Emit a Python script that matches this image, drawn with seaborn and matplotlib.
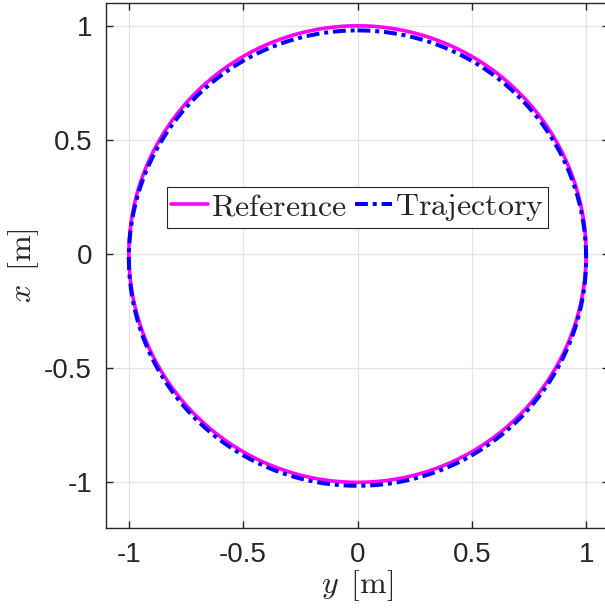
import numpy as np
import pandas as pd
import matplotlib
matplotlib.use("Agg")
import matplotlib.pyplot as plt
import seaborn as sns

# ===============================
# Datos
# ===============================

ref_radius = 1.0
ref_center = [0.0, 0.0]           # (y, x)

# extremos de la trayectoria
traj_top = 0.98
traj_bottom = -1.015
traj_left = -1.0
traj_right = 1.0

x_ticks = [-1, -0.5, 0, 0.5, 1]
y_ticks = [-1, -0.5, 0, 0.5, 1]
x_tick_labels = ["-1", "-0.5", "0", "0.5", "1"]
y_tick_labels = ["-1", "-0.5", "0", "0.5", "1"]

# ===============================
# Preparar curvas
# ===============================

theta = np.linspace(0, 2 * np.pi, 721)

ref = pd.DataFrame({
    "y": ref_center[0] + ref_radius * np.sin(theta),
    "x": ref_center[1] + ref_radius * np.cos(theta),
})

cy = (traj_right + traj_left) / 2
cx = (traj_top + traj_bottom) / 2
ry = (traj_right - traj_left) / 2
rx = (traj_top - traj_bottom) / 2
traj = pd.DataFrame({
    "y": cy + ry * np.sin(theta),
    "x": cx + rx * np.cos(theta),
})

# ===============================
# Estilo
# ===============================

sns.set_theme(style="whitegrid")
plt.rcParams["font.family"] = ["Liberation Sans", "DejaVu Sans"]
plt.rcParams["mathtext.fontset"] = "cm"

fig = plt.figure(figsize=(6.05, 6.16), dpi=100)
W, H = 605, 616
left, right, top, bottom = 106, 609, 3, 528
ax = fig.add_axes([left / W, (H - bottom) / H, (right - left) / W, (bottom - top) / H])

sns.lineplot(data=ref, x="y", y="x", sort=False, estimator=None,
             color="#ff00ff", linewidth=2.6, ax=ax, label=r"$\mathrm{Reference}$")
sns.lineplot(data=traj, x="y", y="x", sort=False, estimator=None,
             color="#0000ff", linewidth=2.9, linestyle=(0, (3.2, 1.2, 1.0, 1.2)),
             ax=ax, label=r"$\mathrm{Trajectory}$")

ax.set_xlim(-1.1, 1.1)
ax.set_ylim(-1.2, 1.1)
ax.set_xticks(x_ticks)
ax.set_xticklabels(x_tick_labels)
ax.set_yticks(y_ticks)
ax.set_yticklabels(y_tick_labels)

ax.set_facecolor("white")
ax.grid(True, color="#e3e3e3", linewidth=0.9)
for s in ax.spines.values():
    s.set_color("#262626")
    s.set_linewidth(1.0)

ax.tick_params(axis="both", direction="in", length=5, width=1.0,
               colors="#262626", labelsize=20, pad=10,
               bottom=True, left=True, top=True, right=True)

ax.set_xlabel(r"$y\ \, [\mathrm{m}]$", fontsize=23, labelpad=0, color="#262626")
ax.set_ylabel(r"$x\ \, [\mathrm{m}]$", fontsize=23, labelpad=2, color="#262626")

leg = ax.legend(loc="center", bbox_to_anchor=(0.5, 0.61), ncol=2,
                fontsize=23, frameon=True, fancybox=False, framealpha=1,
                edgecolor="#262626", handlelength=1.15, handletextpad=0.1,
                columnspacing=0.25, borderpad=0.15, borderaxespad=0)
leg.get_frame().set_linewidth(0.8)

fig.savefig("out.png", dpi=100)
